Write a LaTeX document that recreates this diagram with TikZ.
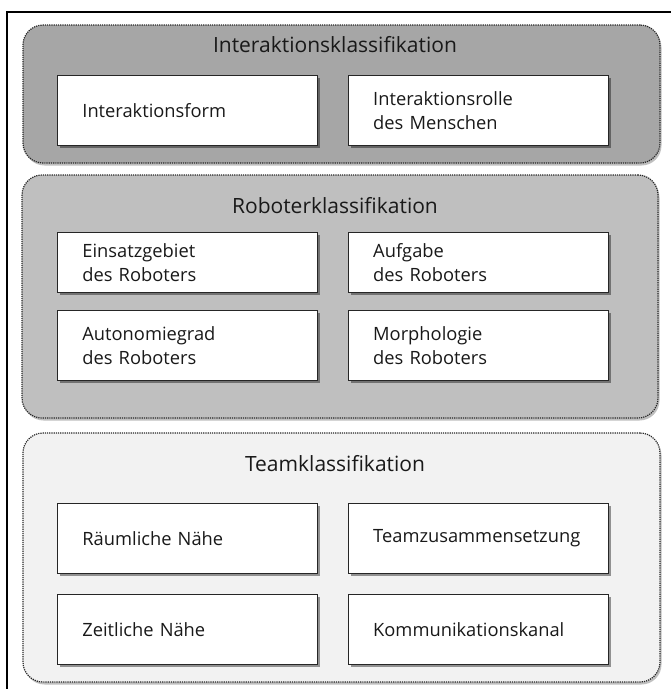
\documentclass[tikz,border=0pt]{standalone}
\usepackage{fontspec}
\setmainfont{Open Sans}
\usetikzlibrary{positioning, shadows}

\definecolor{ikfill}{HTML}{A6A6A6}
\definecolor{rkfill}{HTML}{BFBFBF}
\definecolor{tkfill}{HTML}{F2F2F2}

\begin{document}
\begin{tikzpicture}[x=1pt, y=-1pt,
    group/.style={draw=black!85, densely dotted, line width=1.2pt, rounded corners=20pt,
      drop shadow={shadow xshift=1.5pt, shadow yshift=-2.5pt, opacity=0.25, fill=black}},
    entry/.style={draw=black!85, fill=white, line width=0.8pt, text width=210pt, inner xsep=25pt,
      minimum height=70pt, align=left, anchor=center, text=black!90,
      font=\fontsize{18.3}{24}\selectfont,
      drop shadow={shadow xshift=2.5pt, shadow yshift=-2.5pt, opacity=0.4, fill=black}},
    grouptitle/.style={text=black!90, font=\fontsize{21}{25}\selectfont}
  ]
  \useasboundingbox (0,0) rectangle (671,689);

%% outer frame, only top and left edge are visible
  \draw[line width=1.5pt] (671,12) -- (7,12) -- (7,689);

%% interaction classification
  \node[group, fill=ikfill, minimum width=637pt, minimum height=138pt] (IK) at (341.5,94) {};
  \node[grouptitle] (IKt) at (335,45) {Interaktionsklassifikation};
  \node[entry, anchor=north west] (IF) at (57,75) {Interaktionsform};
  \node[entry, right=30pt of IF] (IR) {Interaktionsrolle\\des Menschen};

%% robot classification
  \node[group, fill=rkfill, minimum width=636pt, minimum height=243pt] (RK) at (340,296.5) {};
  \node[grouptitle] (RKt) at (335,206) {Roboterklassifikation};
  \node[entry, anchor=north west, minimum height=60pt] (EG) at (57,232) {Einsatzgebiet\\des Roboters};
  \node[entry, right=30pt of EG, minimum height=60pt] (AG) {Aufgabe\\des Roboters};
  \node[entry, below=17pt of EG] (AU) {Autonomiegrad\\des Roboters};
  \node[entry, right=30pt of AU] (MO) {Morphologie\\des Roboters};

%% team classification
  \node[group, fill=tkfill, minimum width=637pt, minimum height=249pt] (TK) at (341.5,557.5) {};
  \node[grouptitle] (TKt) at (335,464) {Teamklassifikation};
  \node[entry, anchor=north west] (RN) at (57,503) {Räumliche Nähe};
  \node[entry, right=30pt of RN] (TZ) {Teamzusammensetzung};
  \node[entry, below=20pt of RN] (ZN) {Zeitliche Nähe};
  \node[entry, right=30pt of ZN] (KK) {Kommunikationskanal};

\end{tikzpicture}
\end{document}
